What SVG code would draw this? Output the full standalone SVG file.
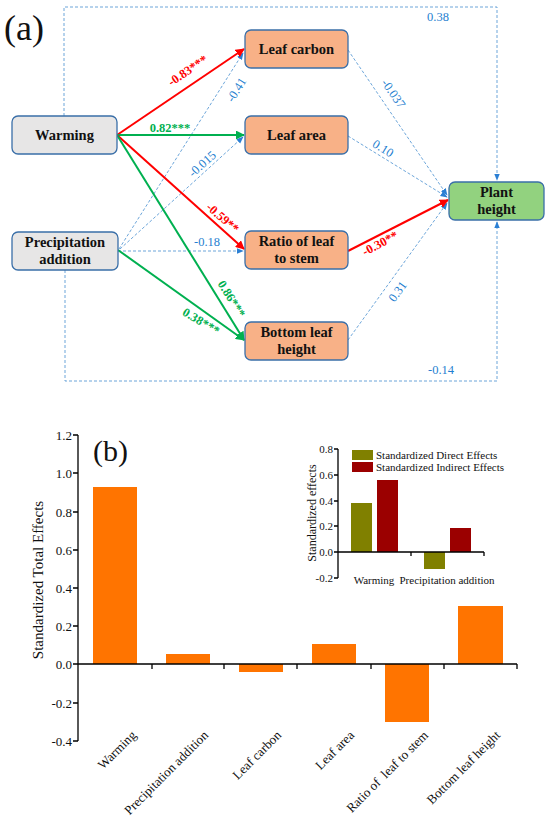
<svg xmlns="http://www.w3.org/2000/svg" width="550" height="818" viewBox="0 0 550 818">
<defs>
<style>
.node rect{stroke:#3a6fa8;stroke-width:1.3}
.nt{font-family:"Liberation Serif",serif;font-weight:bold;font-size:14.5px;fill:#111;text-anchor:middle}
.red{stroke:#ff0000;stroke-width:2;fill:none}
.grn{stroke:#00b050;stroke-width:2;fill:none}
.dsh{stroke:#5b9bd5;stroke-width:0.9;stroke-dasharray:3,2;fill:none}
.lr{font-family:"Liberation Serif",serif;font-weight:bold;font-size:12.5px;fill:#ff0000;text-anchor:middle}
.lg{font-family:"Liberation Serif",serif;font-weight:bold;font-size:12.5px;fill:#00b050;text-anchor:middle}
.lb{font-family:"Liberation Serif",serif;font-size:12.5px;fill:#1f7fd0;text-anchor:middle}
.ax{stroke:#000;stroke-width:1.3;fill:none}
.tk{font-family:"Liberation Serif",serif;font-size:13px;fill:#111;text-anchor:end}
.tks{font-family:"Liberation Serif",serif;font-size:11px;fill:#111;text-anchor:end}
.xl{font-family:"Liberation Serif",serif;font-size:13px;fill:#111;text-anchor:end;white-space:pre}
.bar{fill:#ff7400}
</style>
<marker id="ar" viewBox="0 0 10 10" refX="9" refY="5" markerWidth="4.5" markerHeight="4.5" orient="auto" markerUnits="strokeWidth"><path d="M0,0 L10,5 L0,10 z" fill="#ff0000"/></marker>
<marker id="ag" viewBox="0 0 10 10" refX="9" refY="5" markerWidth="4.5" markerHeight="4.5" orient="auto" markerUnits="strokeWidth"><path d="M0,0 L10,5 L0,10 z" fill="#00b050"/></marker>
<marker id="ab" viewBox="0 0 10 10" refX="9" refY="5" markerWidth="8" markerHeight="8" orient="auto" markerUnits="strokeWidth"><path d="M0,1 L10,5 L0,9 z" fill="#2a7fd4"/></marker>
</defs>
<rect width="550" height="818" fill="#fff"/>
<text x="4" y="40" font-family="Liberation Serif,serif" font-size="36" fill="#111">(a)</text>

<g id="connectors">
<path class="dsh" d="M64,116 V7 H497 V180" marker-end="url(#ab)"/>
<path class="dsh" d="M65,270 V381 H497 V222" marker-end="url(#ab)"/>
<line class="dsh" x1="119" y1="249" x2="243" y2="53" marker-end="url(#ab)"/>
<line class="dsh" x1="120" y1="249" x2="243" y2="137" marker-end="url(#ab)"/>
<line class="dsh" x1="118" y1="251" x2="243" y2="251" marker-end="url(#ab)"/>
<line class="dsh" x1="348" y1="50" x2="447" y2="195" marker-end="url(#ab)"/>
<line class="dsh" x1="348" y1="136" x2="447" y2="197" marker-end="url(#ab)"/>
<line class="dsh" x1="348" y1="340" x2="447" y2="203" marker-end="url(#ab)"/>
<line class="red" x1="117" y1="135" x2="244" y2="49" marker-end="url(#ar)"/>
<line class="grn" x1="117" y1="135" x2="244" y2="135" marker-end="url(#ag)"/>
<line class="red" x1="117" y1="135" x2="244" y2="249" marker-end="url(#ar)"/>
<line class="grn" x1="117" y1="135" x2="244" y2="340" marker-end="url(#ag)"/>
<line class="grn" x1="118" y1="250" x2="244" y2="340" marker-end="url(#ag)"/>
<line class="red" x1="348" y1="251" x2="448" y2="200" marker-end="url(#ar)"/>
<text class="lr" transform="translate(190,74) rotate(-34)">-0.83***</text>
<text class="lg" x="170" y="132">0.82***</text>
<text class="lb" transform="translate(240,92) rotate(-58)">-0.41</text>
<text class="lb" transform="translate(205,167) rotate(-42)">-0.015</text>
<text class="lr" transform="translate(220,221) rotate(41)">-0.59**</text>
<text class="lb" x="207" y="246">-0.18</text>
<text class="lg" transform="translate(228,301) rotate(58)">0.86***</text>
<text class="lg" transform="translate(199,325) rotate(31)">0.38***</text>
<text class="lb" transform="translate(390,96) rotate(55)">-0.037</text>
<text class="lb" transform="translate(381,152) rotate(31)">0.10</text>
<text class="lr" transform="translate(382,247) rotate(-28)">-0.30**</text>
<text class="lb" transform="translate(401,294) rotate(-54)">0.31</text>
<text class="lb" x="438" y="21">0.38</text>
<text class="lb" x="441" y="374">-0.14</text>
</g>

<g id="warming" class="node"><rect x="12" y="116" width="105" height="38" rx="6" fill="#e7e6e6"/><text class="nt" x="64.5" y="140">Warming</text></g>
<g id="precip" class="node"><rect x="12" y="232" width="106" height="38" rx="6" fill="#e7e6e6"/><text class="nt" x="65" y="247">Precipitation</text><text class="nt" x="65" y="264">addition</text></g>
<g id="leafcarbon" class="node"><rect x="245" y="30" width="103" height="38" rx="6" fill="#f8b187"/><text class="nt" x="296.5" y="54">Leaf carbon</text></g>
<g id="leafarea" class="node"><rect x="245" y="116" width="103" height="38" rx="6" fill="#f8b187"/><text class="nt" x="296.5" y="140">Leaf area</text></g>
<g id="ratio" class="node"><rect x="245" y="231" width="103" height="38" rx="6" fill="#f8b187"/><text class="nt" x="296.5" y="246">Ratio of leaf</text><text class="nt" x="296.5" y="263">to stem</text></g>
<g id="bottom" class="node"><rect x="245" y="322" width="103" height="38" rx="6" fill="#f8b187"/><text class="nt" x="296.5" y="337">Bottom leaf</text><text class="nt" x="296.5" y="354">height</text></g>
<g id="plant" class="node"><rect x="449" y="182" width="95" height="38" rx="6" fill="#92d27f"/><text class="nt" x="496.5" y="197">Plant</text><text class="nt" x="496.5" y="214">height</text></g>

<g id="chart-b">
<text x="93" y="461" font-family="Liberation Serif,serif" font-size="30" fill="#111">(b)</text>
<rect class="bar" x="93" y="487" width="44" height="177"/>
<rect class="bar" x="166" y="654" width="44" height="10"/>
<rect class="bar" x="239" y="664" width="44" height="8"/>
<rect class="bar" x="312" y="644" width="44" height="20"/>
<rect class="bar" x="385" y="664" width="44" height="58"/>
<rect class="bar" x="458" y="606" width="45" height="58"/>
<path class="ax" d="M78,435 V741 M517,664 H78 M73,435 H78 M73,473 H78 M73,512 H78 M73,550 H78 M73,588 H78 M73,626 H78 M73,664 H78 M73,703 H78 M73,741 H78 M152,664 V669 M224,664 V669 M297,664 V669 M371,664 V669 M444,664 V669 M517,664 V669"/>
<text class="tk" x="72" y="439.5">1.2</text>
<text class="tk" x="72" y="477.5">1.0</text>
<text class="tk" x="72" y="516.5">0.8</text>
<text class="tk" x="72" y="554.5">0.6</text>
<text class="tk" x="72" y="592.5">0.4</text>
<text class="tk" x="72" y="630.5">0.2</text>
<text class="tk" x="72" y="668.5">0.0</text>
<text class="tk" x="72" y="707.5">-0.2</text>
<text class="tk" x="72" y="745.5">-0.4</text>
<text transform="translate(43,580) rotate(-90)" font-family="Liberation Serif,serif" font-size="15" fill="#111" text-anchor="middle">Standardized Total Effects</text>
<text class="xl" transform="translate(137,736) rotate(-45)">Warming</text>
<text class="xl" transform="translate(209,736) rotate(-45)">Precipitation addition</text>
<text class="xl" transform="translate(282,736) rotate(-45)">Leaf carbon</text>
<text class="xl" transform="translate(355,736) rotate(-45)">Leaf area</text>
<text class="xl" transform="translate(429,736) rotate(-45)">Ratio of  leaf to stem</text>
<text class="xl" transform="translate(501,736) rotate(-45)">Bottom leaf height</text>
</g>

<g id="chart-inset">
<rect x="351" y="503" width="21" height="49" fill="#808000"/>
<rect x="377" y="480" width="21" height="72" fill="#9b0000"/>
<rect x="424" y="552" width="21" height="17" fill="#808000"/>
<rect x="450" y="528" width="21" height="24" fill="#9b0000"/>
<path class="ax" stroke-width="1" d="M338,449 V578 M484,552 H338 M334,449 H338 M334,475 H338 M334,501 H338 M334,526 H338 M334,552 H338 M334,578 H338 M411,552 V556 M484,552 V556"/>
<text class="tks" x="333" y="453">0.8</text>
<text class="tks" x="333" y="479">0.6</text>
<text class="tks" x="333" y="505">0.4</text>
<text class="tks" x="333" y="530">0.2</text>
<text class="tks" x="333" y="556">0.0</text>
<text class="tks" x="333" y="582">-0.2</text>
<text transform="translate(316,513) rotate(-90)" font-family="Liberation Serif,serif" font-size="12" fill="#111" text-anchor="middle">Standardized effects</text>
<text x="374" y="584" font-family="Liberation Serif,serif" font-size="11" fill="#111" text-anchor="middle">Warming</text>
<text x="447" y="584" font-family="Liberation Serif,serif" font-size="11" fill="#111" text-anchor="middle">Precipitation addition</text>
<rect x="352" y="450" width="21" height="10" fill="#808000"/>
<rect x="352" y="462" width="21" height="10" fill="#9b0000"/>
<text x="376" y="459" font-family="Liberation Serif,serif" font-size="11" fill="#111">Standardized Direct Effects</text>
<text x="376" y="471" font-family="Liberation Serif,serif" font-size="11" fill="#111">Standardized Indirect Effects</text>
</g>
</svg>
